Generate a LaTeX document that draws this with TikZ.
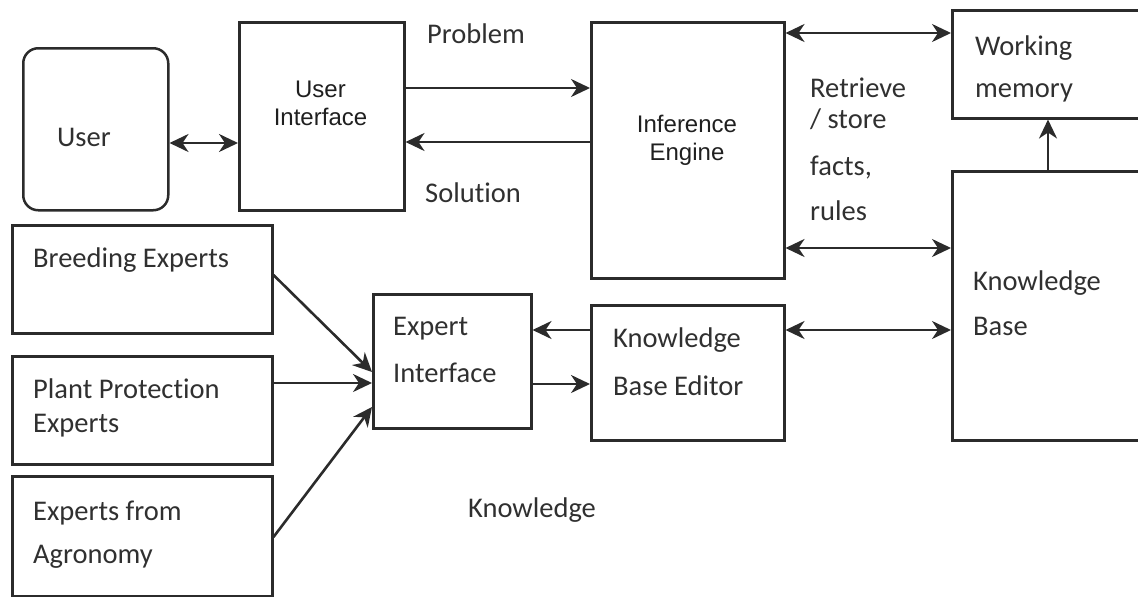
\documentclass[tikz,border=0pt]{standalone}
\usepackage{fontspec}
\setmainfont[Ligatures={NoCommon}]{Carlito}
\newfontfamily\arialfont{Liberation Sans}
\usetikzlibrary{arrows.meta}
\definecolor{ink}{HTML}{2B2B2B}
\definecolor{txt}{HTML}{303030}
\tikzset{
  box/.style={draw=ink, line width=2.5pt, inner sep=0pt, anchor=north west},
  lbl/.style={anchor=base west, inner sep=0pt, text=txt, font=\fontsize{28.5}{34}\selectfont},
  alb/.style={anchor=base, inner sep=0pt, text=black!88, font=\arialfont\fontsize{24}{28}\selectfont},
  link/.style={draw=ink, line width=2.6pt, >={Stealth[length=19pt,width=18pt,inset=6pt]}},
  tip/.style={->},
  tips/.style={<->}
}
\begin{document}
\begin{tikzpicture}[x=1pt,y=-1pt]
\useasboundingbox (0,0) rectangle (1138,597);
\clip (0,0) rectangle (1138,597);

% boxes
\node[box, rounded corners=15pt, minimum width=145pt, minimum height=162pt] (user) at (22,47) {};
\node[box, minimum width=165pt, minimum height=188pt] (ui) at (238,21) {};
\node[box, minimum width=193pt, minimum height=256pt] (ie) at (590,21) {};
\node[box, minimum width=200pt, minimum height=108pt] (wm) at (951,9) {};
\node[box, minimum width=200pt, minimum height=269pt] (kb) at (951,170) {};
\node[box, minimum width=260pt, minimum height=108pt] (be) at (11,224) {};
\node[box, minimum width=260pt, minimum height=108pt] (pp) at (11,355) {};
\node[box, minimum width=260pt, minimum height=120pt] (ag) at (11,475) {};
\node[box, minimum width=158pt, minimum height=134pt] (ei) at (372,293) {};
\node[box, minimum width=193pt, minimum height=135pt] (kbe) at (590,304) {};

% texts
\node[lbl] (t-user) at (57,146) {User};
\node[alb] (t-ui1) at (320.5,97) {User};
\node[alb] (t-ui2) at (320.5,125) {Interface};
\node[alb] (t-ie1) at (687,132) {Inference};
\node[alb] (t-ie2) at (687,160) {Engine};
\node[lbl] (t-prob) at (427,43) {Problem};
\node[lbl] (t-sol) at (425,202) {Solution};
\node[lbl] (t-r1) at (810,97) {Retrieve};
\node[lbl] (t-r2) at (810,128) {/ store};
\node[lbl] (t-r3) at (810,175) {facts,};
\node[lbl] (t-r4) at (810,220) {rules};
\node[lbl] (t-wm1) at (975,55) {Working};
\node[lbl] (t-wm2) at (975,97) {memory};
\node[lbl] (t-kb1) at (973,290) {Knowledge};
\node[lbl] (t-kb2) at (973,335) {Base};
\node[lbl] (t-be) at (33,267) {Breeding Experts};
\node[lbl] (t-pp1) at (33,398) {Plant Protection};
\node[lbl] (t-pp2) at (33,432) {Experts};
\node[lbl] (t-ag1) at (33,520) {Experts from};
\node[lbl] (t-ag2) at (33,563) {Agronomy};
\node[lbl] (t-ei1) at (393,335) {Expert};
\node[lbl] (t-ei2) at (393,382) {Interface};
\node[lbl] (t-kbe1) at (613,347) {Knowledge};
\node[lbl] (t-kbe2) at (613,395) {Base Editor};
\node[lbl] (t-know) at (468,517) {Knowledge};

% connectors
\draw[link,tips] (user.east |- 0,143) -- (ui.west |- 0,143);
\draw[link,tip] (ui.east |- 0,88) -- (ie.west |- 0,88);
\draw[link,tip] (ie.west |- 0,142) -- (ui.east |- 0,142);
\draw[link,tips] (ie.east |- 0,33) -- (wm.west |- 0,33);
\draw[link,tips] (ie.east |- 0,248) -- (kb.west |- 0,248);
\draw[link,tip] (kb.north -| 1048,0) -- (wm.south -| 1048,0);
\draw[link,tip] (kbe.west |- 0,330) -- (ei.east |- 0,330);
\draw[link,tip] (ei.east |- 0,384) -- (kbe.west |- 0,384);
\draw[link,tips] (kbe.east |- 0,330) -- (kb.west |- 0,330);
\draw[link,tip] (be.east |- 0,275) -- (ei.west |- 0,372);
\draw[link,tip] (pp.east |- 0,383) -- (ei.west |- 0,383);
\draw[link,tip] (ag.east |- 0,537) -- (ei.west |- 0,407);
\end{tikzpicture}
\end{document}
